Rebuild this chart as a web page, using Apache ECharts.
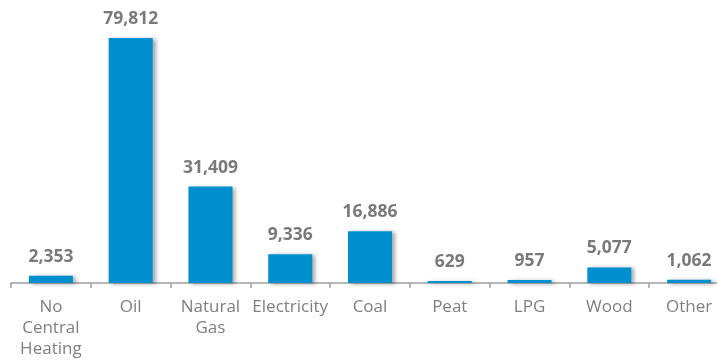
<!DOCTYPE html>
<html>
<head>
<meta charset="utf-8">
<script src="https://cdn.jsdelivr.net/npm/echarts@6/dist/echarts.min.js"></script>
<style>
  html, body { margin: 0; padding: 0; background: #ffffff; }
  #chart { width: 717px; height: 360px; }
</style>
</head>
<body>
<div id="chart"></div>
<script>
// Central heating type, number of households
const categories = ['No\nCentral\nHeating', 'Oil', 'Natural\nGas', 'Electricity', 'Coal', 'Peat', 'LPG', 'Wood', 'Other'];
const households = [2353, 79812, 31409, 9336, 16886, 629, 957, 5077, 1062];

const chart = echarts.init(document.getElementById('chart'));
chart.setOption({
  animation: false,
  grid: { left: 11, width: 718, top: 37.4, bottom: 77, containLabel: false, outerBoundsMode: 'none' },
  xAxis: {
    type: 'category',
    data: categories,
    axisLine: { show: true, lineStyle: { color: '#a0a0a0', width: 1.5 } },
    axisTick: { show: true, length: 5, lineStyle: { color: '#a0a0a0', width: 1.5 } },
    axisLabel: {
      color: '#7f7f7f',
      fontFamily: 'Open Sans',
      fontSize: 17,
      lineHeight: 21,
      margin: 14,
      interval: 0
    }
  },
  yAxis: {
    type: 'value',
    min: 0,
    max: 80000,
    show: false,
    splitLine: { show: false }
  },
  series: [{
    type: 'bar',
    data: households,
    barWidth: 44,
    itemStyle: {
      color: '#0090d0',
      shadowColor: 'rgba(0,0,0,0.35)',
      shadowBlur: 4,
      shadowOffsetX: 3,
      shadowOffsetY: 1
    },
    label: {
      show: true,
      position: 'top',
      distance: 10,
      color: '#7a7a7a',
      fontFamily: 'Open Sans',
      fontWeight: 'bold',
      fontSize: 17.5,
      formatter: p => p.value.toLocaleString('en-US')
    }
  }]
});
</script>
</body>
</html>
